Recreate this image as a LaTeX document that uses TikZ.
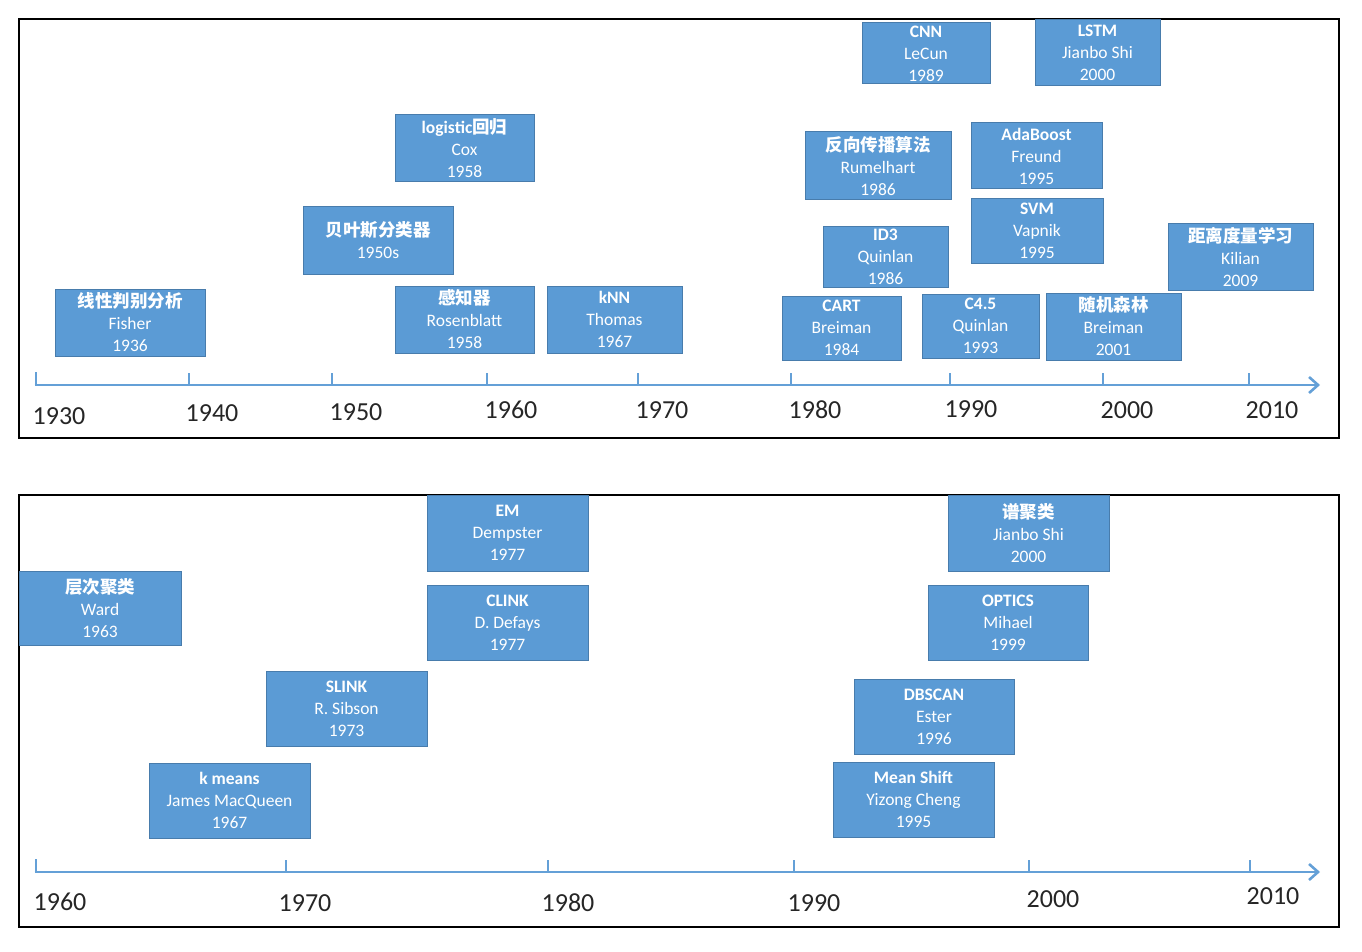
\documentclass[tikz,border=0pt]{standalone}
\usepackage{fontspec}
\setmainfont{Carlito}
\newfontfamily\cjk{Noto Sans CJK SC}
\usetikzlibrary{arrows.meta}
\definecolor{boxblue}{RGB}{91,155,213}
\definecolor{boxedge}{RGB}{72,124,172}
\definecolor{axisblue}{RGB}{100,160,215}
\tikzset{
  tlbox/.style={rectangle, fill=boxblue, draw=boxedge, line width=1pt, inner sep=0pt,
    text=white, align=center, font={\fontsize{17.5}{22}\selectfont}},
  frame/.style={draw=black, line width=2pt},
  axisline/.style={draw=axisblue, line width=2.6pt},
  axisarrow/.style={axisline, -{Straight Barb[length=9pt,width=16pt,line width=2.6pt]}},
  yearlbl/.style={text=black!85, inner sep=0pt, font={\fontsize{26}{30}\selectfont}},
}
\newcommand\tbox[6]{\node[tlbox, minimum width={#4-#2}, minimum height={#5-#3}] (#1) at ({(#2+#4)/2},{(#3+#5)/2}) {#6};}
\newcommand\hd[1]{{\bfseries #1}}
\newcommand\zh[1]{{\cjk\bfseries #1}}
\begin{document}
\begin{tikzpicture}[x=1pt,y=-1pt]
\useasboundingbox (0,0) rectangle (1362,952);
% frames
\draw[frame] (19,19) rectangle (1339,438);
\draw[frame] (19,495) rectangle (1339,927);

% ---------- top axis ----------
\coordinate (ta0) at (36,372);
\coordinate (ta1) at (36,385);
\coordinate (ta2) at (1320,385);
\draw[axisline, line cap=butt] (ta0) -- (ta1);
\draw[axisarrow] ([xshift=-1.3pt]ta1) -- (ta2);
\foreach \x/\n in {189/b,332/c,487/d,638/e,791/f,950/g,1103/h,1249/i} {
  \coordinate (tt\n) at (\x,373);
  \coordinate (tb\n) at (\x,385);
  \draw[axisline] (tt\n) -- (tb\n);
}
\node[yearlbl] (y1930) at (59,416) {1930};
\node[yearlbl] (y1940) at (212,413) {1940};
\node[yearlbl] (y1950) at (356,412) {1950};
\node[yearlbl] (y1960) at (511,410) {1960};
\node[yearlbl] (y1970) at (662,410) {1970};
\node[yearlbl] (y1980) at (815,410) {1980};
\node[yearlbl] (y1990) at (971,409) {1990};
\node[yearlbl] (y2000) at (1127,410) {2000};
\node[yearlbl] (y2010) at (1272,410) {2010};

% ---------- top boxes ----------
\tbox{lda}{55}{289}{205}{356}{\zh{线性判别分析}\\Fisher\\1936}
\tbox{bayes}{303}{207}{453}{274}{\zh{贝叶斯分类器}\\1950s}
\tbox{logit}{395}{115}{534}{182}{\hd{logistic}\zh{回归}\\Cox\\1958}
\tbox{perc}{395}{286}{534}{353}{\zh{感知器}\\Rosenblatt\\1958}
\tbox{knn}{547}{286}{682}{353}{\hd{kNN}\\Thomas\\1967}
\tbox{cnn}{862}{23}{990}{84}{\hd{CNN}\\LeCun\\1989}
\tbox{lstm}{1035}{20}{1160}{86}{\hd{LSTM}\\Jianbo Shi\\2000}
\tbox{bp}{805}{132}{951}{200}{\zh{反向传播算法}\\Rumelhart\\1986}
\tbox{ada}{971}{123}{1102}{189}{\hd{AdaBoost}\\Freund\\1995}
\tbox{svm}{971}{199}{1103}{263}{\hd{SVM}\\Vapnik\\1995}
\tbox{id3}{823}{226}{948}{287}{\hd{ID3}\\Quinlan\\1986}
\tbox{metric}{1168}{223}{1313}{290}{\zh{距离度量学习}\\Kilian\\2009}
\tbox{cart}{782}{296}{901}{360}{\hd{CART}\\Breiman\\1984}
\tbox{c45}{922}{294}{1039}{358}{\hd{C4.5}\\Quinlan\\1993}
\tbox{rf}{1046}{293}{1181}{360}{\zh{随机森林}\\Breiman\\2001}

% ---------- bottom axis ----------
\coordinate (ba0) at (36,859);
\coordinate (ba1) at (36,872);
\coordinate (ba2) at (1320,872);
\draw[axisline, line cap=butt] (ba0) -- (ba1);
\draw[axisarrow] ([xshift=-1.3pt]ba1) -- (ba2);
\foreach \x/\n in {286/b,548/c,794/d,1029/e,1250/f} {
  \coordinate (bt\n) at (\x,860);
  \coordinate (bb\n) at (\x,872);
  \draw[axisline] (bt\n) -- (bb\n);
}
\node[yearlbl] (z1960) at (60,902) {1960};
\node[yearlbl] (z1970) at (305,903) {1970};
\node[yearlbl] (z1980) at (568,903) {1980};
\node[yearlbl] (z1990) at (814,903) {1990};
\node[yearlbl] (z2000) at (1053,899) {2000};
\node[yearlbl] (z2010) at (1273,896) {2010};

% ---------- bottom boxes ----------
\tbox{em}{427}{495}{588}{571}{\hd{EM}\\Dempster\\1977}
\tbox{hier}{19}{571}{181}{645}{\zh{层次聚类}\\Ward\\1963}
\tbox{clink}{427}{585}{588}{660}{\hd{CLINK}\\D. Defays\\1977}
\tbox{slink}{266}{671}{427}{746}{\hd{SLINK}\\R. Sibson\\1973}
\tbox{kmeans}{149}{763}{310}{838}{\hd{k means}\\James MacQueen\\1967}
\tbox{spec}{948}{495}{1109}{571}{\zh{谱聚类}\\Jianbo Shi\\2000}
\tbox{optics}{928}{585}{1088}{660}{\hd{OPTICS}\\Mihael\\1999}
\tbox{dbscan}{854}{679}{1014}{754}{\hd{DBSCAN}\\Ester\\1996}
\tbox{ms}{833}{762}{994}{837}{\hd{Mean Shift}\\Yizong Cheng\\1995}
\end{tikzpicture}
\end{document}
